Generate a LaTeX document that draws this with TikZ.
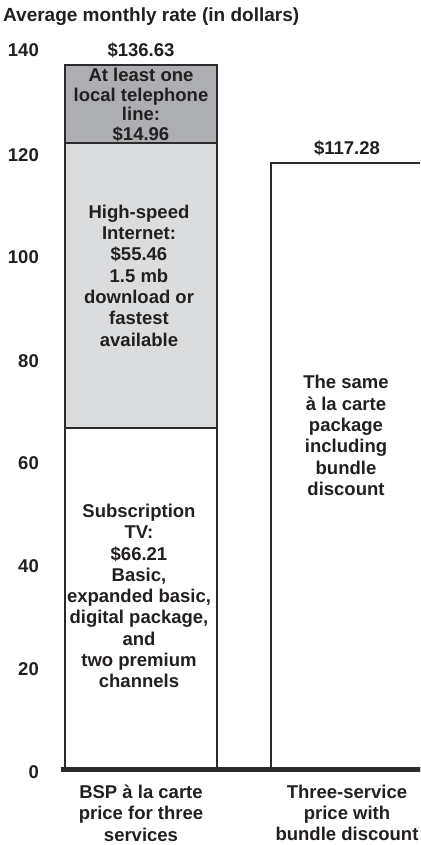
\documentclass[tikz,border=0pt]{standalone}
\usepackage{fontspec}
\setmainfont{Liberation Sans}
\definecolor{darkseg}{HTML}{ADAEB2}
\definecolor{lightseg}{HTML}{DBDCDE}
\definecolor{edge}{HTML}{2B2B2B}
\definecolor{ink}{HTML}{231F20}
\begin{document}
\begin{tikzpicture}[x=1pt,y=-1pt,
  lbl/.style={font=\bfseries\fontsize{18.5}{21.3}\selectfont, text=ink, align=center, inner sep=0pt},
  toplbl/.style={lbl, font=\bfseries\fontsize{18.5}{19.4}\selectfont},
  ax/.style={lbl, anchor=east},
  seg/.style={draw=edge, line width=1.3pt}]
\useasboundingbox (0,0) rectangle (420,845);
\fill[white] (0,0) rectangle (420,845);
\begin{scope}
\clip (0,0) rectangle (420,845);
\draw[seg, fill=darkseg] (65,65) rectangle (217,143);
\draw[seg, fill=lightseg] (65,143) rectangle (217,428);
\draw[seg, fill=white] (65,428) rectangle (217,769);
\draw[seg, fill=white] (271,163) rectangle (424,769);
\draw[line width=4.5pt, edge] (61,769.5) -- (426,769.5);
\end{scope}

\node[lbl, anchor=west, font=\bfseries\fontsize{19}{22}\selectfont] (title) at (3,17) {Average monthly rate (in dollars)};

\node[ax] (t140) at (39,50) {140};
\node[ax] (t120) at (39,155) {120};
\node[ax] (t100) at (39,257) {100};
\node[ax] (t80) at (39,361) {80};
\node[ax] (t60) at (39,463) {60};
\node[ax] (t40) at (39,566) {40};
\node[ax] (t20) at (39,669) {20};
\node[ax] (t0) at (39,772) {0};

\node[lbl] (v1) at (141,50) {\$136.63};
\node[lbl] (v2) at (347,148) {\$117.28};

\node[toplbl] (phone) at (141,105) {At least one\\local telephone\\line:\\\$14.96};
\node[lbl] (net) at (139,275.5) {High-speed\\Internet:\\\$55.46\\1.5 mb\\download or\\fastest\\available};
\node[lbl] (tv) at (139,596) {Subscription\\TV:\\\$66.21\\Basic,\\expanded basic,\\digital package,\\and\\two premium\\channels};
\node[lbl] (same) at (346,435.5) {The same\\à la carte\\package\\including\\bundle\\discount};

\node[lbl] (cat1) at (141,813) {BSP à la carte\\price for three\\services};
\node[lbl] (cat2) at (347,813) {Three-service\\price with\\bundle discount};
\end{tikzpicture}
\end{document}
